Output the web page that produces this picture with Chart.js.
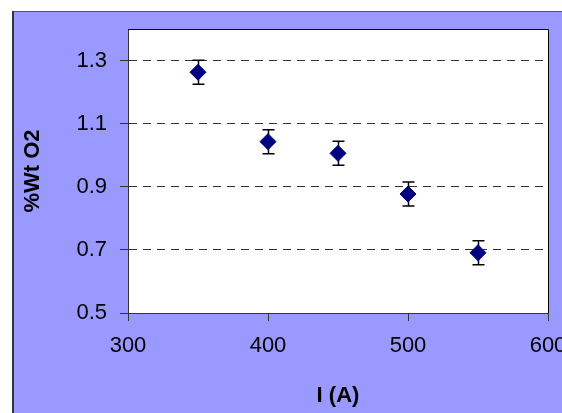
<!DOCTYPE html>
<html>
<head>
<meta charset="utf-8">
<script src="https://cdn.jsdelivr.net/npm/chart.js@4/dist/chart.umd.min.js"></script>
<style>
  html, body { margin: 0; padding: 0; background: #ffffff; overflow: hidden; }
  #wrap { width: 562px; height: 413px; overflow: hidden; position: relative; }
  canvas { display: block; }
</style>
</head>
<body>
<div id="wrap"><canvas id="c" width="600" height="413"></canvas></div>
<script>
// ---- data ----
const currents = [350, 400, 450, 500, 550];          // I (A)
const wtO2 = [1.263, 1.043, 1.006, 0.877, 0.691];     // %Wt O2
const errO2 = [0.038, 0.038, 0.038, 0.038, 0.038];    // error bar half-height
const xTicks = [300, 400, 500, 600];
const yTicks = [0.5, 0.7, 0.9, 1.1, 1.3];
const xTitle = 'I (A)';
const yTitle = '%Wt O2';

const FONT = '"Liberation Sans", Arial, sans-serif';

const backgroundPlugin = {
  id: 'bg',
  beforeDraw(chart) {
    const { ctx, chartArea: a, width, height } = chart;
    ctx.save();
    ctx.fillStyle = '#ffffff';
    ctx.fillRect(0, 0, width, height);
    ctx.fillStyle = '#9999FF';
    ctx.fillRect(12, 11, width - 12, height - 11);
    ctx.strokeStyle = '#555555';
    ctx.lineWidth = 1;
    ctx.beginPath();
    ctx.moveTo(12, 11.5); ctx.lineTo(width, 11.5);
    ctx.stroke();
    ctx.strokeStyle = '#333333';
    ctx.lineWidth = 2;
    ctx.beginPath();
    ctx.moveTo(13, 11); ctx.lineTo(13, height);
    ctx.stroke();
    ctx.fillStyle = '#ffffff';
    ctx.fillRect(a.left, a.top, a.right - a.left, a.bottom - a.top);
    ctx.restore();
  },
  afterDraw(chart) {
    const { ctx, chartArea: a } = chart;
    ctx.save();
    ctx.strokeStyle = '#000000';
    ctx.lineWidth = 1;
    ctx.beginPath();
    ctx.moveTo(a.left, a.top + 0.5);
    ctx.lineTo(a.right + 0.5, a.top + 0.5);
    ctx.lineTo(a.right + 0.5, a.bottom);
    ctx.stroke();
    ctx.restore();
  }
};

const errorBarPlugin = {
  id: 'errbars',
  beforeDatasetsDraw(chart) {
    const { ctx, scales: { x, y } } = chart;
    ctx.save();
    ctx.strokeStyle = '#000000';
    ctx.lineWidth = 1.5;
    for (let i = 0; i < currents.length; i++) {
      const px = Math.round(x.getPixelForValue(currents[i])) + 0.5;
      const yt = y.getPixelForValue(wtO2[i] + errO2[i]);
      const yb = y.getPixelForValue(wtO2[i] - errO2[i]);
      ctx.beginPath();
      ctx.moveTo(px, yt); ctx.lineTo(px, yb);
      ctx.moveTo(px - 6, yt); ctx.lineTo(px + 6, yt);
      ctx.moveTo(px - 6, yb); ctx.lineTo(px + 6, yb);
      ctx.stroke();
    }
    ctx.restore();
  }
};

new Chart(document.getElementById('c'), {
  type: 'scatter',
  data: {
    datasets: [{
      data: currents.map((v, i) => ({ x: v, y: wtO2[i] })),
      pointStyle: 'rectRot',
      pointRadius: 8,
      pointHoverRadius: 8,
      backgroundColor: '#000080',
      borderColor: '#000080',
      borderWidth: 1,
      showLine: false
    }]
  },
  options: {
    responsive: false,
    animation: false,
    events: [],
    layout: { padding: { left: 0, top: 29, right: 52, bottom: 0 } },
    plugins: { legend: { display: false }, tooltip: { enabled: false } },
    scales: {
      x: {
        type: 'linear',
        min: 300, max: 600,
        afterBuildTicks: (s) => { s.ticks = xTicks.map(v => ({ value: v })); },
        afterFit: (s) => { s.height = 100; },
        grid: { drawOnChartArea: false, drawTicks: true, tickLength: 8, tickColor: '#333333', tickWidth: 1 },
        border: { display: true, color: '#333333', width: 1 },
        ticks: { color: '#000000', font: { family: FONT, size: 22 }, padding: 12, maxRotation: 0, autoSkip: false },
        title: { display: true, text: xTitle, color: '#000000', font: { family: FONT, size: 22, weight: 'bold' }, padding: { top: 0, bottom: 4 } }
      },
      y: {
        type: 'linear',
        min: 0.5, max: 1.4,
        afterBuildTicks: (s) => { s.ticks = yTicks.map(v => ({ value: v })); },
        afterFit: (s) => { s.width = 128; },
        grid: {
          drawOnChartArea: true,
          color: (c) => (c.tick && c.tick.value === 0.5) ? 'rgba(0,0,0,0)' : '#333333',
          lineWidth: 1,
          drawTicks: true, tickLength: 8, tickColor: '#333333', tickWidth: 1, tickBorderDash: []
        },
        border: { display: true, color: '#333333', width: 1, dash: [8, 6] },
        ticks: { color: '#000000', font: { family: FONT, size: 22 }, padding: 13,
          callback: (v) => v.toFixed(1) },
        title: { display: true, text: yTitle, color: '#000000', font: { family: FONT, size: 22, weight: 'bold' }, padding: { top: 20, bottom: 0 } }
      }
    }
  },
  plugins: [backgroundPlugin, errorBarPlugin]
});
</script>
</body>
</html>
